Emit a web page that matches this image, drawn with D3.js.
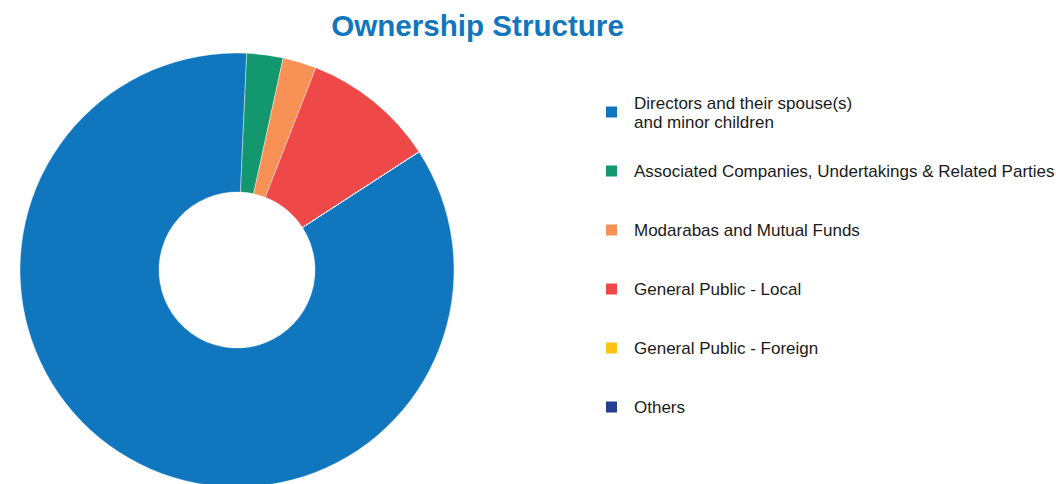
<!DOCTYPE html>
<html>
<head>
<meta charset="utf-8">
<script src="https://cdn.jsdelivr.net/npm/d3@7"></script>
<style>
  body { margin: 0; background: #fff; }
  svg { display: block; font-family: "Liberation Sans", Arial, Helvetica, sans-serif; }
</style>
</head>
<body>
<div id="body"></div>
<script>
// chart data (percent of shareholding)
var categories = [
  "Directors and their spouse(s)\nand minor children",
  "Associated Companies, Undertakings & Related Parties",
  "Modarabas and Mutual Funds",
  "General Public - Local",
  "General Public - Foreign",
  "Others"
];
var shares = [84.88, 2.70, 2.50, 9.92, 0, 0];
var colours = ["#1077be", "#13976f", "#f79155", "#ef4848", "#fcc314", "#243f8f"];

var width = 1056;
var height = 484;

// Make the canvas
function makeChart () {
  var svg = d3.select('#body')
    .append('svg')
    .attr('width', width)
    .attr('height', height);

  svg.append('text')
    .attr('x', 477.5)
    .attr('y', 36)
    .attr('text-anchor', 'middle')
    .attr('font-size', '29.6px')
    .attr('font-weight', 'bold')
    .attr('fill', '#1077be')
    .text('Ownership Structure');

  return svg;
}

// Make the donut
function makeDonut (svg) {
  var cx = 237, cy = 270;
  var outer = 217, inner = 78;
  // first slice begins where the last one ends, just past 12 o'clock
  var start = (57 / 180) * Math.PI;

  var pie = d3.pie()
    .sort(null)
    .value(function(d) { return d; })
    .startAngle(start)
    .endAngle(start + 2 * Math.PI);

  var arc = d3.arc().innerRadius(inner).outerRadius(outer);

  svg.append('g')
    .attr('transform', 'translate(' + cx + ',' + cy + ')')
    .selectAll('path')
    .data(pie(shares))
    .enter()
    .append('path')
    .attr('d', arc)
    .attr('fill', function(d, i) { return colours[i]; })
    .attr('stroke', '#fff')
    .attr('stroke-width', 0.4);
}

// Make the legend
function insertLegend (svg) {
  var y = d3.scaleLinear().domain([0, categories.length - 1]).range([112, 407]);

  var item = svg.append('g')
    .selectAll('.item')
    .data(categories)
    .enter()
    .append('g')
    .attr('class', 'item')
    .attr('transform', function(d, i) { return 'translate(606,' + y(i) + ')'; });

  item.append('rect')
    .attr('x', 0)
    .attr('y', -5.5)
    .attr('width', 11)
    .attr('height', 11)
    .attr('fill', function(d, i) { return colours[i]; });

  item.append('text')
    .attr('font-size', '17px')
    .attr('fill', '#1a1a1a')
    .each(function(d) {
      var lines = d.split('\n');
      var t = d3.select(this);
      var top = 6 - (lines.length - 1) * 9.5;
      lines.forEach(function(l, k) {
        t.append('tspan')
          .attr('x', 28)
          .attr('y', top + k * 19)
          .text(l);
      });
    });
}

var svg = makeChart();
makeDonut(svg);
insertLegend(svg);
</script>
</body>
</html>
